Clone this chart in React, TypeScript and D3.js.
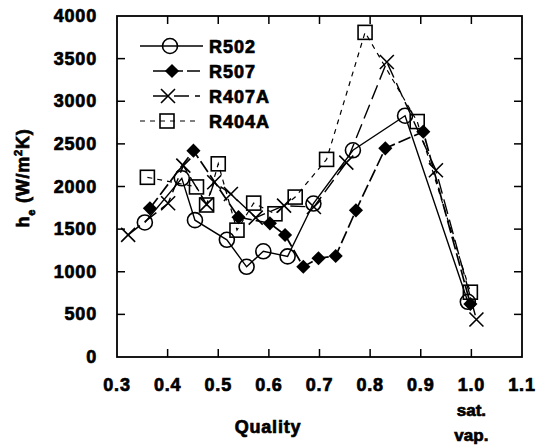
import React, { useEffect, useRef } from 'react';
import * as d3 from 'd3';

// quality (x) and heat transfer coefficient (y) for each refrigerant
const r502X = [0.355, 0.428, 0.454, 0.517, 0.556, 0.589, 0.637, 0.688, 0.766, 0.869, 0.993];
const r502Y = [1578, 2096, 1605, 1375, 1058, 1240, 1180, 1800, 2425, 2830, 648];

const r507X = [0.365, 0.451, 0.540, 0.602, 0.632, 0.668, 0.698, 0.732, 0.772, 0.830, 0.905, 0.998];
const r507Y = [1744, 2420, 1640, 1568, 1431, 1059, 1158, 1185, 1720, 2448, 2643, 622];

const r407aX = [0.322, 0.401, 0.431, 0.477, 0.492, 0.525, 0.574, 0.630, 0.689, 0.753, 0.833, 0.930, 1.010];
const r407aY = [1432, 1803, 2245, 1790, 2050, 1912, 1635, 1775, 1760, 2280, 3460, 2190, 440];

const r404aX = [0.360, 0.457, 0.477, 0.500, 0.537, 0.570, 0.612, 0.652, 0.714, 0.790, 0.893, 0.998];
const r404aY = [2108, 1995, 1783, 2266, 1488, 1805, 1680, 1876, 2318, 3808, 2762, 760];

const seriesNames = ['R502', 'R507', 'R407A', 'R404A'];

const xTicks = [0.3, 0.4, 0.5, 0.6, 0.7, 0.8, 0.9, 1.0, 1.1];
const yTicks = [0, 500, 1000, 1500, 2000, 2500, 3000, 3500, 4000];

const FONT = '"Liberation Sans", Arial, sans-serif';

function App() {
    const chart = useRef<SVGSVGElement>(null);

    useEffect(function () {
        if (!chart.current) return;
        const svg = d3.select(chart.current);
        svg.selectAll('*').remove();

        const left = 117, right = 522, top = 16, bottom = 357;

        const x = d3.scaleLinear().domain([0.3, 1.1]).range([left, right]);
        const y = d3.scaleLinear().domain([0, 4000]).range([bottom, top]);

        // heavy scanned-looking bold text
        const boldText = (sel: any) => sel
            .style('font-family', FONT).style('font-weight', 'bold')
            .style('font-size', '18px')
            .attr('stroke', '#000').attr('stroke-width', 0.7).attr('fill', '#000');

        // frame
        svg.append('rect')
            .attr('x', left).attr('y', top)
            .attr('width', right - left).attr('height', bottom - top)
            .attr('fill', 'none').attr('stroke', '#000').attr('stroke-width', 1.8);

        // inward ticks on all four sides
        const tickLen = 8;
        const g = svg.append('g').attr('stroke', '#000').attr('stroke-width', 1.5);
        g.selectAll('.tb').data(xTicks.slice(1, -1)).join('line')
            .attr('x1', d => x(d)).attr('x2', d => x(d))
            .attr('y1', bottom).attr('y2', bottom - tickLen);
        g.selectAll('.tt').data(xTicks.slice(1, -1)).join('line')
            .attr('x1', d => x(d)).attr('x2', d => x(d))
            .attr('y1', top).attr('y2', top + tickLen);
        g.selectAll('.tl').data(yTicks.slice(1, -1)).join('line')
            .attr('x1', left).attr('x2', left + tickLen)
            .attr('y1', d => y(d)).attr('y2', d => y(d));
        g.selectAll('.tr').data(yTicks.slice(1, -1)).join('line')
            .attr('x1', right).attr('x2', right - tickLen)
            .attr('y1', d => y(d)).attr('y2', d => y(d));

        // tick labels
        svg.append('g').selectAll('text').data(xTicks).join('text')
            .attr('x', d => x(d)).attr('y', 391)
            .attr('text-anchor', 'middle')
            .call(boldText).style('letter-spacing', '0.8px')
            .text(d => d.toFixed(1));
        svg.append('g').selectAll('text').data(yTicks).join('text')
            .attr('x', 97).attr('y', d => y(d) + 6)
            .attr('text-anchor', 'end')
            .call(boldText).style('letter-spacing', '0.8px')
            .text(d => d);

        // axis titles
        svg.append('text').attr('x', 268).attr('y', 433).attr('text-anchor', 'middle')
            .call(boldText).style('letter-spacing', '0.8px').text('Quality');
        svg.append('text').attr('x', x(1.0)).attr('y', 416).attr('text-anchor', 'middle')
            .call(boldText).style('font-size', '17px').text('sat.');
        svg.append('text').attr('x', x(1.0)).attr('y', 441).attr('text-anchor', 'middle')
            .call(boldText).style('font-size', '17px').text('vap.');

        const yl = svg.append('text')
            .attr('transform', 'translate(29,178) rotate(-90)')
            .attr('text-anchor', 'middle')
            .call(boldText).style('letter-spacing', '0.8px');
        yl.append('tspan').text('h');
        yl.append('tspan').attr('dy', 6).style('font-size', '11px').text('e');
        yl.append('tspan').attr('dy', -6).text(' (W/m');
        yl.append('tspan').attr('dy', -7).style('font-size', '11px').text('2');
        yl.append('tspan').attr('dy', 7).text('K)');

        // series
        const series = [
            { name: seriesNames[0], xs: r502X, ys: r502Y, dash: null, width: 1.4, marker: 'circle' },
            { name: seriesNames[1], xs: r507X, ys: r507Y, dash: '13,4', width: 1.7, marker: 'diamond' },
            { name: seriesNames[2], xs: r407aX, ys: r407aY, dash: '15,6', width: 1.4, marker: 'cross' },
            { name: seriesNames[3], xs: r404aX, ys: r404aY, dash: '5,5', width: 1.2, marker: 'square' },
        ];

        const line = d3.line<[number, number]>().x(d => d[0]).y(d => d[1]);

        function drawMarker(sel: any, type: string, px: number, py: number) {
            if (type === 'circle') {
                sel.append('circle').attr('cx', px).attr('cy', py).attr('r', 7.5)
                    .attr('fill', 'none').attr('stroke', '#000').attr('stroke-width', 1.6);
            } else if (type === 'square') {
                sel.append('rect').attr('x', px - 7).attr('y', py - 7).attr('width', 14).attr('height', 14)
                    .attr('fill', 'none').attr('stroke', '#000').attr('stroke-width', 1.6);
            } else if (type === 'diamond') {
                sel.append('path')
                    .attr('d', d3.symbol().type(d3.symbolSquare).size(100)()!)
                    .attr('transform', `translate(${px},${py}) rotate(45)`)
                    .attr('fill', '#000');
            } else {
                sel.append('path')
                    .attr('d', `M${px - 7},${py - 7}L${px + 7},${py + 7}M${px - 7},${py + 7}L${px + 7},${py - 7}`)
                    .attr('stroke', '#000').attr('stroke-width', 1.6).attr('fill', 'none');
            }
        }

        series.forEach(s => {
            const pts: [number, number][] = s.xs.map((v, i) => [x(v), y(s.ys[i])]);
            svg.append('path').attr('d', line(pts)!)
                .attr('fill', 'none').attr('stroke', '#000').attr('stroke-width', s.width)
                .attr('stroke-dasharray', s.dash);
        });
        series.forEach(s => {
            const mg = svg.append('g');
            s.xs.forEach((v, i) => drawMarker(mg, s.marker, x(v), y(s.ys[i])));
        });

        // legend
        const legY = [46, 71, 96, 121];
        const legLines = [[140, 203], [153, 200], [153, 200], [140, 200]];
        const legMark = [170, 172, 168, 167];
        series.forEach((s, i) => {
            svg.append('line')
                .attr('x1', legLines[i][0]).attr('x2', legLines[i][1])
                .attr('y1', legY[i]).attr('y2', legY[i])
                .attr('stroke', '#000').attr('stroke-width', s.width)
                .attr('stroke-dasharray', s.dash);
            drawMarker(svg, s.marker, legMark[i], legY[i]);
            svg.append('text').attr('x', 209).attr('y', legY[i] + 7)
                .call(boldText).style('letter-spacing', '1px').text(s.name);
        });
    });

    return (
        <div>
            <svg ref={chart} width={543} height={448}
                style={{ position: 'absolute', left: 0, top: 0, background: '#fff' }}></svg>
        </div>
    );
}

export default App;
